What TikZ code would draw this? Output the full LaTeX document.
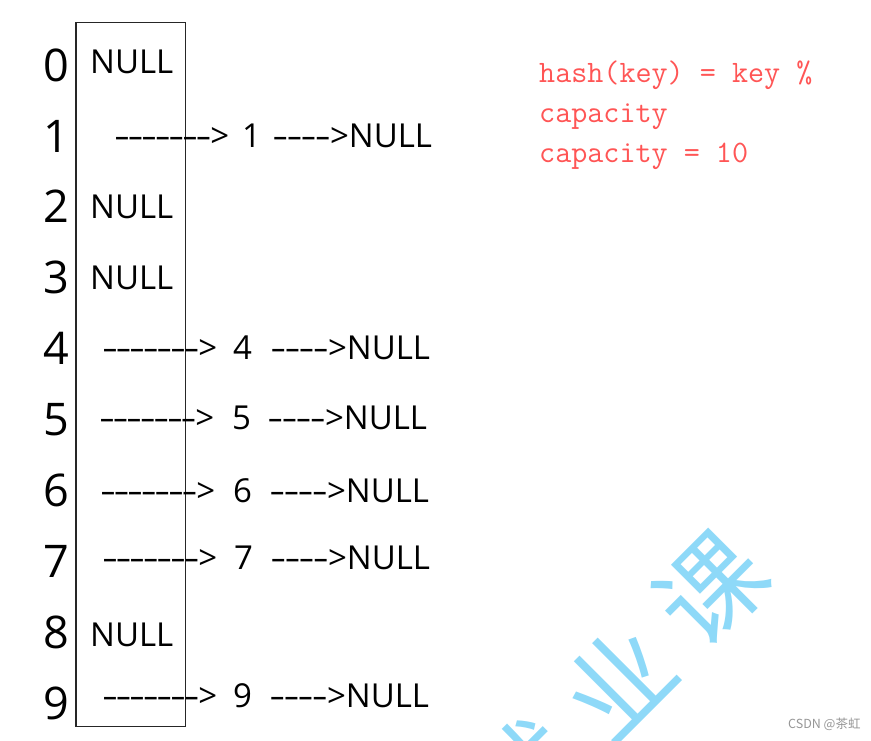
\documentclass[tikz,border=0pt]{standalone}
\usepackage{fontspec}
\setmainfont{Open Sans}[Ligatures=TeXOff]
\setmonofont{Latin Modern Mono}[Ligatures=TeXOff]
\newfontfamily\cjk{Noto Sans CJK SC}
\definecolor{hashred}{RGB}{255,85,85}
\definecolor{wmblue}{RGB}{142,217,248}
\definecolor{csdngray}{RGB}{150,150,150}
\newcommand{\onedash}{\makebox[13.6pt]{\scalebox{1.5}[1]{-}}}
\newcommand{\taildash}{\makebox[14.2pt]{\scalebox{1.5}[1]{-}}}
\newcommand{\longdash}{\onedash\onedash\onedash\onedash\onedash\onedash\onedash>}
\newcommand{\shortdash}{\taildash\taildash\taildash\taildash>}
\begin{document}
\begin{tikzpicture}[x=1pt,y=-1pt,
  lbl/.style={anchor=base west,inner sep=0pt,font=\fontsize{33}{40}\selectfont},
  idx/.style={anchor=base,inner sep=0pt,font=\fontsize{45}{54}\selectfont},
  hashtxt/.style={anchor=base west,inner sep=0pt,text=hashred,font=\ttfamily\fontsize{31.2}{36}\selectfont},
  wm/.style={rotate=45,inner sep=0pt,text=wmblue,font=\cjk\fontsize{105}{105}\selectfont},
  tablebox/.style={draw=black!85,line width=1.2pt,minimum width=109.5pt,minimum height=704pt,inner sep=0pt}
]
\useasboundingbox (0,0) rectangle (871,740);
\begin{scope}
  \clip (0,0) rectangle (871,740);
  \node[wm] (w1) at (711.5,588.5) {课};
  \node[wm] (w2) at (618,682) {业};
  \node[wm] (w3) at (524.5,775.5) {就};
\end{scope}
\node[tablebox] (table) at (130.75,374.5) {};
% index digits
\node[idx] (i0) at (56,81) {0};
\node[idx] (i1) at (56,152) {1};
\node[idx] (i2) at (56,222) {2};
\node[idx] (i3) at (56,293) {3};
\node[idx] (i4) at (56,364) {4};
\node[idx] (i5) at (56,435) {5};
\node[idx] (i6) at (56,506) {6};
\node[idx] (i7) at (56,577) {7};
\node[idx] (i8) at (56,648) {8};
\node[idx] (i9) at (56,719) {9};
% NULL cells
\node[lbl] (n0) at (90,73.5) {NULL};
\node[lbl] (n2) at (90,218) {NULL};
\node[lbl] (n3) at (90,289) {NULL};
\node[lbl] (n8) at (90,646) {NULL};
% chains
\node[lbl] (d1) at (115,147) {\longdash};
\node[lbl] (k1) at (242,147) {1};
\node[lbl] (t1) at (273,147) {\shortdash NULL};
\node[lbl] (d4) at (103,359) {\longdash};
\node[lbl] (k4) at (233,359) {4};
\node[lbl] (t4) at (271,359) {\shortdash NULL};
\node[lbl] (d5) at (100,429) {\longdash};
\node[lbl] (k5) at (232,429) {5};
\node[lbl] (t5) at (268,429) {\shortdash NULL};
\node[lbl] (d6) at (101,502) {\longdash};
\node[lbl] (k6) at (233,502) {6};
\node[lbl] (t6) at (270,502) {\shortdash NULL};
\node[lbl] (d7) at (103,569) {\longdash};
\node[lbl] (k7) at (234,569) {7};
\node[lbl] (t7) at (271,569) {\shortdash NULL};
\node[lbl] (d9) at (103,707) {\longdash};
\node[lbl] (k9) at (233,707) {9};
\node[lbl] (t9) at (270,707) {\shortdash NULL};
% formula
\node[hashtxt] (h1) at (539,82) {hash(key) = key \%};
\node[hashtxt] (h2) at (539,122) {capacity};
\node[hashtxt] (h3) at (539,162) {capacity = 10};
% credit
\node[anchor=base west,inner sep=0pt,text=csdngray,font=\cjk\fontsize{12.5}{14}\selectfont] (csdn) at (788,728) {CSDN @茶虹};
\end{tikzpicture}
\end{document}
